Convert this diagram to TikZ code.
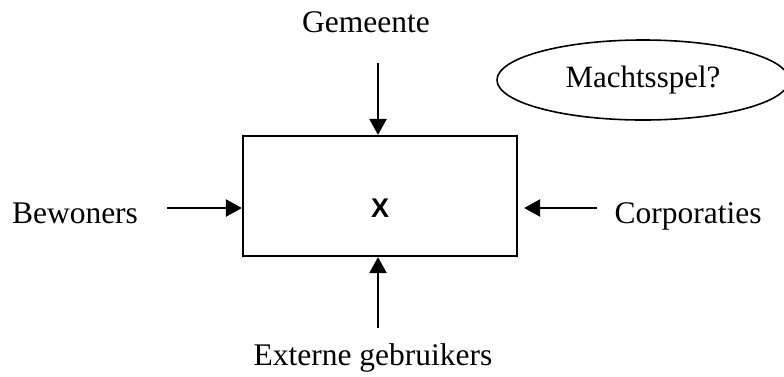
\documentclass[tikz,border=0pt]{standalone}
\usepackage{fontspec}
\setmainfont{Liberation Serif}
\newfontfamily\boxsans[BoldFont={Liberation Sans Bold}]{Liberation Sans}
\usetikzlibrary{arrows.meta,shapes.geometric}

\tikzset{
  label/.style={inner sep=0pt, anchor=base, font=\fontsize{31.5}{36}\selectfont},
  push/.style={line width=2.4pt, -{Triangle[length=16pt,width=17pt]}},
}

\begin{document}
\begin{tikzpicture}[x=1pt,y=-1pt]
  \useasboundingbox (0,0) rectangle (784,376);

  % central actor box
  \node (box) [draw, line width=2.2pt, inner sep=0pt,
               minimum width=274pt, minimum height=120pt] at (380,196) {};
  \node (x) [inner sep=0pt, anchor=base, font=\boxsans\bfseries\fontsize{27}{32}\selectfont]
        at (380,217) {X};

  % stakeholders
  \node (gem) [label] at (366,32)  {Gemeente};
  \node (bew) [label] at (75,223)  {Bewoners};
  \node (cor) [label] at (688,223) {Corporaties};
  \node (ext) [label] at (373,365) {Externe gebruikers};

  % power play
  \node (macht) [draw, ellipse, line width=1.6pt, inner sep=0pt,
                 minimum width=292pt, minimum height=80pt,
                 font=\fontsize{31}{36}\selectfont] at (643,80) {Machtsspel?};

  % arrow starts
  \coordinate (gemS) at (378,63);
  \coordinate (bewS) at (167,208);
  \coordinate (corS) at (597,208);
  \coordinate (extS) at (378,328);

  \draw[push] (gemS) -- (gemS |- box.north);
  \draw[push] (bewS) -- (bewS -| box.west);
  \draw[push] (corS) -- ([xshift=6pt]corS -| box.east);
  \draw[push] (extS) -- (extS |- box.south);
\end{tikzpicture}
\end{document}
